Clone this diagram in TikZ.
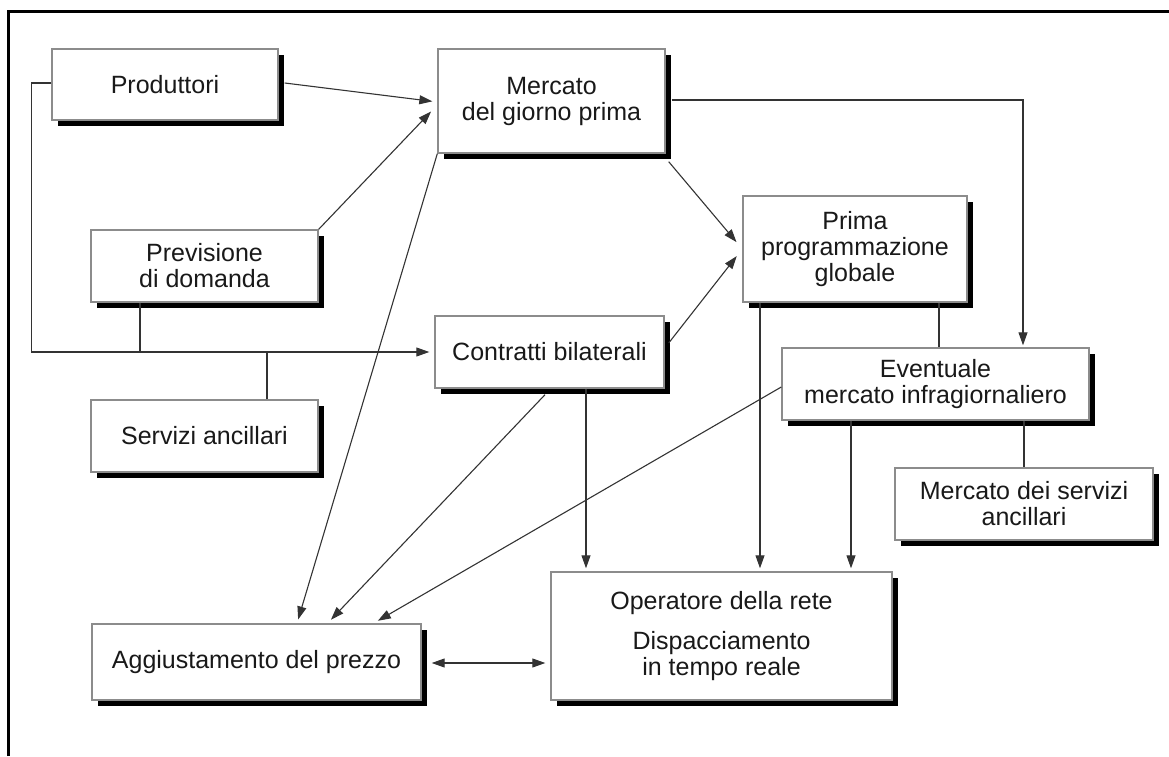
\documentclass[tikz,border=0pt]{standalone}
\usepackage{fontspec}
\setmainfont{Liberation Sans}
\usetikzlibrary{arrows.meta,shadows,calc}

\tikzset{
  box/.style={rectangle, draw=black!45, line width=1.4pt, fill=white,
    inner sep=0pt, align=center, text=black!90,
    font=\fontsize{25}{26}\selectfont,
    drop shadow={shadow xshift=6pt, shadow yshift=-6pt, fill=black, opacity=1}},
  link/.style={draw=black!80, line width=1.1pt},
  arr/.style={link, -{Triangle[length=13pt,width=9pt]}},
  dblarr/.style={link, {Triangle[length=13pt,width=9pt]}-{Triangle[length=13pt,width=9pt]}}
}

\begin{document}
\begin{tikzpicture}[x=1pt,y=1pt]
\useasboundingbox (0,0) rectangle (1169,756);

% frame
\draw[line width=3pt] (8,0) -- (8,744) -- (1169,744);

% blocks
\node[box, minimum width=226, minimum height=71]  (prod)  at (165,671.5) {Produttori};
\node[box, minimum width=227, minimum height=104] (mgp)   at (551.5,655) {Mercato\\del giorno prima};
\node[box, minimum width=227, minimum height=72]  (prev)  at (204.5,490) {Previsione\\di domanda};
\node[box, minimum width=227, minimum height=72]  (serv)  at (204.5,320) {Servizi ancillari};
\node[box, minimum width=229, minimum height=72]  (contr) at (549.5,404) {Contratti bilaterali};
\node[box, minimum width=224, minimum height=106] (prima) at (855,507) {Prima\\programmazione\\globale};
\node[box, minimum width=307, minimum height=72]  (event) at (935.5,372) {Eventuale\\mercato infragiornaliero};
\node[box, minimum width=258, minimum height=72]  (msa)   at (1024,252) {Mercato dei servizi\\ancillari};
\node[box, minimum width=329, minimum height=76]  (agg)   at (256.5,94) {Aggiustamento del prezzo};
\node[box, minimum width=341, minimum height=128] (oper)  at (721.5,120) {Operatore della rete\\[14pt]Dispacciamento\\in tempo reale};

% junction points on the block edges
\coordinate (pj) at ([xshift=-64.5pt]prev.south);
\coordinate (sj) at ([xshift=62.5pt]serv.north);
\coordinate (c1) at ([xshift=36.5pt]contr.south);
\coordinate (p1) at ([xshift=-95pt]prima.south);
\coordinate (p2) at ([xshift=84pt]prima.south);
\coordinate (e1) at ([xshift=87.5pt]event.north);
\coordinate (e2) at ([xshift=-84.5pt]event.south);
\coordinate (e3) at ([xshift=88.5pt]event.south);

% inputs to the day-ahead market
\draw[arr, shorten >=5pt] ([xshift=6pt,yshift=1.5pt]prod.east) -- ([yshift=-1pt]mgp.west);
\draw[arr, shorten >=9pt] (prev.north east) -- ([yshift=-4pt]mgp.west);

% producers, forecast and services feeding the bilateral contracts
\draw[arr, shorten >=5pt] ([yshift=1.5pt]prod.west) -- ++(-20,0) |- (contr.west);
\draw[link] (pj) -- (pj |- contr.west);
\draw[link] (sj) -- (sj |- contr.west);

% towards the first global schedule
\draw[arr, shorten >=9pt] ([xshift=3pt,yshift=-8pt]mgp.south east) -- (prima.west);
\draw[arr, shorten >=9pt] ([xshift=4pt,yshift=9pt]contr.east) -- (prima.west);

% day-ahead market to the intraday market
\draw[arr, shorten >=2pt] ([xshift=6pt,yshift=1pt]mgp.east) -| (e1);
\draw[link] (p2) -- (p2 |- event.north);
\draw[link] (e3) -- (e3 |- msa.north);

% price adjustment inputs
\draw[arr, shorten >=4pt] (mgp.south west) -- ([xshift=40.5pt]agg.north);
\draw[arr, shorten >=5pt] ([xshift=-4.5pt,yshift=-6pt]contr.south) -- ([xshift=71pt]agg.north);
\draw[arr, shorten >=5pt] ([yshift=-3pt]event.west) -- ([xshift=117pt]agg.north);

% real-time dispatch inputs
\draw[arr, shorten >=3pt] (c1) -- (c1 |- oper.north);
\draw[arr, shorten >=3pt] (p1) -- (p1 |- oper.north);
\draw[arr, shorten >=3pt] (e2) -- (e2 |- oper.north);

% price adjustment <-> network operator
\draw[dblarr, shorten <=10pt, shorten >=5pt] ([yshift=-1pt]agg.east) -- ([yshift=-1pt]agg.east -| oper.west);
\end{tikzpicture}
\end{document}
